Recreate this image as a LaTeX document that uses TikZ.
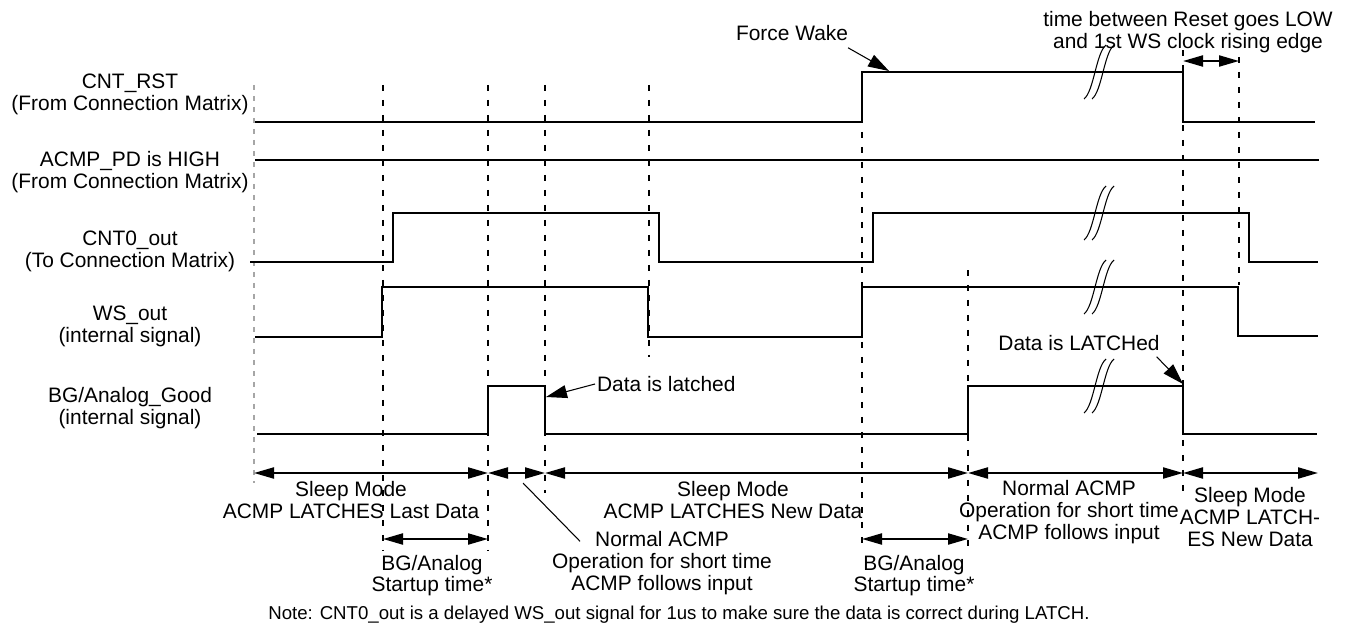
\documentclass[tikz,border=0pt]{standalone}
\usepackage{fontspec}
\setmainfont{Liberation Sans}
\usetikzlibrary{arrows.meta, calc}

\begin{document}
\begin{tikzpicture}[
  x=0.02cm, y=-0.02cm,
  every node/.style={font=\fontsize{11.9}{12.4}\selectfont},
  txt/.style={align=center, inner sep=1pt},
  sig/.style={line width=1.2pt},
  guide/.style={line width=1pt, dash pattern=on 0.12cm off 0.18cm},
  origin/.style={line width=1.4pt, gray!70, dash pattern=on 0.1cm off 0.12cm},
  span/.style={{Triangle[length=0.4cm,width=0.22cm]}-{Triangle[length=0.4cm,width=0.22cm]}, line width=1.2pt},
  callout/.style={-{Triangle[length=0.42cm,width=0.26cm]}, line width=0.6pt},
  brk/.style={line width=0.6pt}
]
  \useasboundingbox (0,0) rectangle (1351,628);

  % Signal names
  \node[txt] (rst) at (130,94.5) {CNT\_RST\\(From Connection Matrix)};
  \node[txt] (pd)  at (130,172)  {ACMP\_PD is HIGH\\(From Connection Matrix)};
  \node[txt] (cnt) at (130,251)  {CNT0\_out\\(To Connection Matrix)};
  \node[txt] (ws)  at (130,326)  {WS\_out\\(internal signal)};
  \node[txt] (bg)  at (130,408)  {BG/Analog\_Good\\(internal signal)};

  % Time guides
  \draw[origin] (254,85) -- (254,483);
  \draw[guide] (383,85) -- (383,550);   \draw[guide] (488,85) -- (488,550);
  \draw[guide] (545,85) -- (545,493);   \draw[guide] (649,85) -- (649,357);
  \draw[guide] (862,72) -- (862,550);   \draw[guide] (968,270) -- (968,550);
  \draw[guide] (1183,50) -- (1183,495); \draw[guide] (1239,57) -- (1239,285);

  % Waveforms
  \draw[sig] (255,122) -- (862,122) -- (862,72) -- (1183,72) -- (1183,122) -- (1315,122);
  \draw[sig] (255,160) -- (1319,160);
  \draw[sig] (250,262) -- (393,262) -- (393,213) -- (659,213) -- (659,262)
             -- (873,262) -- (873,213) -- (1249,213) -- (1249,262) -- (1318,262);
  \draw[sig] (255,337) -- (382,337) -- (382,287) -- (648,287) -- (648,337)
             -- (862,337) -- (862,287) -- (1238,287) -- (1238,336) -- (1318,336);
  \draw[sig] (257,434) -- (488,434) -- (488,386) -- (545,386) -- (545,434)
             -- (968,434) -- (968,386) -- (1183,386) -- (1183,434) -- (1317,434);

  % Time breaks
  \foreach \cy in {72,213,287,386}{
    \draw[brk] (1084,\cy+27) .. controls (1094,\cy+19) and (1096,\cy-19) .. (1106,\cy-27);
    \draw[brk] (1092,\cy+27) .. controls (1102,\cy+19) and (1104,\cy-19) .. (1114,\cy-27);
  }

  % Callouts
  \node[txt] (wake) at (792,33) {Force Wake};
  \coordinate (waketip) at (889,71);
  \draw[callout] ($(wake.south east)+(-2,5)$) -- (waketip);

  \node[txt] (gap) at (1188,32) {time between Reset goes LOW\\and 1st WS clock rising edge};
  \coordinate (g0) at (1183,61); \coordinate (g1) at (1239,61);
  \draw[span] (g0) -- (g1);

  \node[txt, anchor=west] (latlo) at (595,384) {Data is latched};
  \coordinate (latlotip) at (546,397);
  \draw[callout] (latlo.west) -- (latlotip);

  \node[txt] (lathi) at (1079,343) {Data is LATCHed};
  \coordinate (lathitip) at (1183,384);
  \draw[callout] ($(lathi.south east)+(-5,4)$) -- (lathitip);

  % Phases
  \coordinate (t0) at (254,473);  \coordinate (t1) at (488,473);
  \coordinate (t2) at (545,473);  \coordinate (t3) at (968,473);
  \coordinate (t4) at (1183,473); \coordinate (t5) at (1318,473);
  \draw[span] (t0) -- (t1); \draw[span] (t1) -- (t2);
  \draw[span] (t2) -- (t3); \draw[span] (t3) -- (t4);
  \draw[span] (t4) -- (t5);

  \coordinate (u0) at (383,539); \coordinate (u1) at (488,539);
  \coordinate (u2) at (862,539); \coordinate (u3) at (968,539);
  \draw[span] (u0) -- (u1); \draw[span] (u2) -- (u3);

  \node[txt] (sleeplast) at (351,500)  {Sleep Mode\\ACMP LATCHES Last Data};
  \node[txt] (sleepnew)  at (733,500)  {Sleep Mode\\ACMP LATCHES New Data};
  \node[txt] (normhi)    at (1069,512) {Normal ACMP\\Operation for short time\\ACMP follows input};
  \node[txt] (sleepend)  at (1250,517) {Sleep Mode\\ACMP LATCH-\\ES New Data};
  \node[txt] (bgup1)     at (432,575.5) {BG/Analog\\Startup time*};
  \node[txt] (bgup2)     at (914,575.5) {BG/Analog\\Startup time*};
  \node[txt] (normlo)    at (662,563) {Normal ACMP\\Operation for short time\\ACMP follows input};
  \coordinate (normpin) at (523,483);
  \draw[line width=0.6pt] (normpin) -- ($(normlo.north west)+(30,12)$);

  \node[txt, font=\fontsize{10.6}{12}\selectfont] (note) at (679,615)
    {Note: CNT0\_out is a delayed WS\_out signal for 1us to make sure the data is correct during LATCH.};
\end{tikzpicture}
\end{document}
